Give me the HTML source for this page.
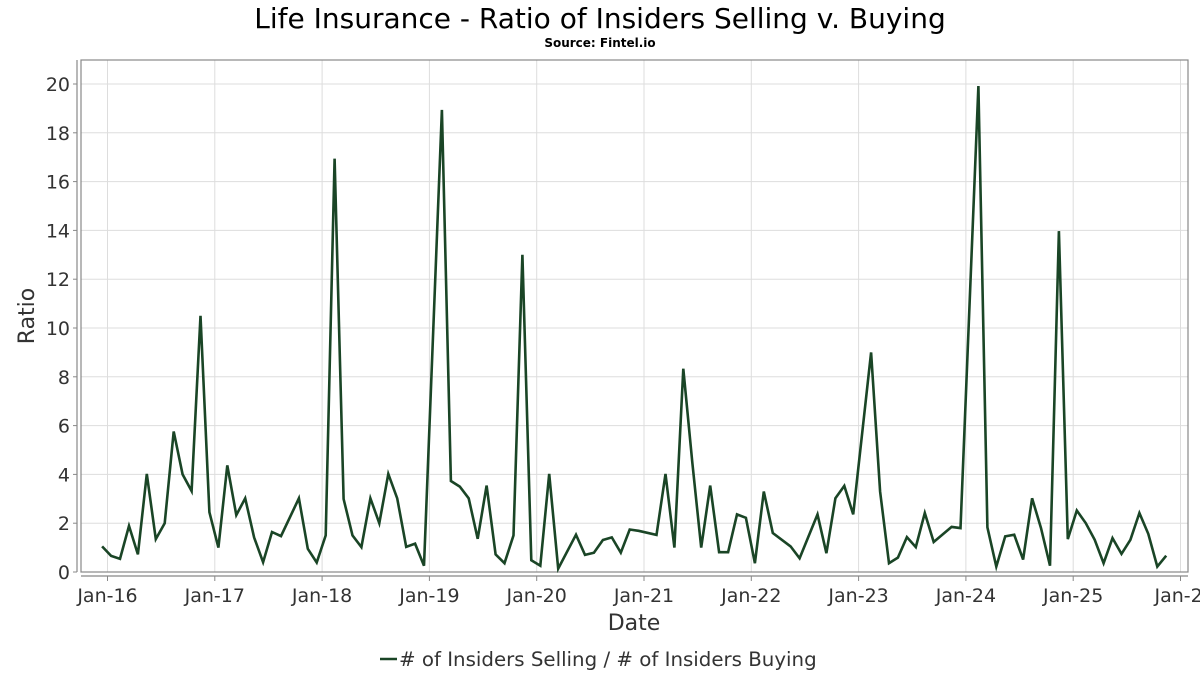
<!DOCTYPE html>
<html><head><meta charset="utf-8"><style>
body{margin:0;background:#fff;font-family:"DejaVu Sans","Liberation Sans",sans-serif;}
svg text{font-family:"DejaVu Sans","Liberation Sans",sans-serif;fill:#333;}
</style></head><body>
<svg id="chart" width="1200" height="675" viewBox="0 0 1200 675">
<text x="600" y="28" text-anchor="middle" font-size="28" fill="#000" style="fill:#000">Life Insurance - Ratio of Insiders Selling v. Buying</text>
<text x="600" y="47" text-anchor="middle" font-size="12" font-weight="bold" style="fill:#000">Source: Fintel.io</text>
<g id="grid"></g>
<rect x="81" y="60" width="1107" height="512" fill="none" stroke="#888" stroke-width="1.2"/>
<line x1="81" y1="576" x2="1188" y2="576" stroke="#888" stroke-width="1.2"/>
<line x1="77" y1="60" x2="77" y2="572" stroke="#888" stroke-width="1.2"/>
<g id="ticks"></g>
<path id="series" fill="none" stroke="#1a4526" stroke-width="2.6" stroke-linejoin="miter"/>
<text x="634" y="630" text-anchor="middle" font-size="22">Date</text>
<text transform="translate(34,316) rotate(-90)" text-anchor="middle" font-size="22">Ratio</text>
<g>
<line x1="380" y1="659" x2="397" y2="659" stroke="#1a4526" stroke-width="2.6"/>
<text x="399" y="666" font-size="19.8"># of Insiders Selling / # of Insiders Buying</text>
</g>
</svg>
<script>
// month offsets from Jan-2016
const months=[-1,0,1,2,3,4,5,6,7,8,9,10,11,12,13,14,15,16,17,18,19,21,22,23,24,25,26,27,28,29,30,31,32,33,34,35,37,38,39,40,41,42,43,44,45,46,47,48,49,50,52,53,54,55,56,57,58,59,61,62,63,64,65,66,67,68,69,70,71,72,73,74,76,77,79,80,81,82,83,85,86,87,88,89,90,91,92,94,95,97,98,99,100,101,102,103,104,105,106,107,108,109,110,111,112,113,114,115,116,117,118];
const values=[1.05,0.66,0.54,1.89,0.72,4.02,1.35,2.0,5.76,4.0,3.32,10.5,2.45,1.0,4.37,2.33,3.02,1.42,0.4,1.64,1.47,3.02,0.95,0.39,1.5,16.94,2.99,1.5,1.02,3.02,2.0,4.02,3.02,1.03,1.16,0.26,18.94,3.73,3.5,3.02,1.36,3.54,0.72,0.36,1.5,13.0,0.48,0.26,4.02,0.14,1.53,0.7,0.79,1.31,1.42,0.79,1.74,1.69,1.52,4.02,1.0,8.33,4.49,1.0,3.54,0.81,0.81,2.36,2.22,0.36,3.3,1.6,1.05,0.56,2.36,0.77,3.02,3.53,2.36,9.0,3.3,0.36,0.59,1.43,1.02,2.42,1.23,1.85,1.8,19.92,1.83,0.22,1.46,1.53,0.51,3.02,1.8,0.26,13.97,1.35,2.52,2.01,1.32,0.36,1.39,0.74,1.32,2.42,1.56,0.22,0.67];
const yTicks=[0,2,4,6,8,10,12,14,16,18,20];
const xTickLabels=["Jan-16","Jan-17","Jan-18","Jan-19","Jan-20","Jan-21","Jan-22","Jan-23","Jan-24","Jan-25","Jan-2"];

const NS="http://www.w3.org/2000/svg";
const X0=107.5, YEARW=107.3, Y0=572, UNIT=24.4;
const xs=m=>X0+(m/12)*YEARW;
const ys=v=>Y0-v*UNIT;
const grid=document.getElementById('grid'), ticks=document.getElementById('ticks');
function mk(tag,attrs,parent){const e=document.createElementNS(NS,tag);for(const k in attrs)e.setAttribute(k,attrs[k]);parent.appendChild(e);return e;}
yTicks.forEach(v=>{
  const l=mk('line',{x1:81,x2:1188,y1:ys(v),y2:ys(v),stroke:'#ddd','stroke-width':1},grid);
  
  
  const tk=mk('line',{x1:73,x2:77,y1:ys(v),y2:ys(v),stroke:'#888','stroke-width':1},ticks);
  
  
  const t=mk('text',{x:70,y:ys(v)+7,'text-anchor':'end','font-size':19},ticks);
  t.textContent=v;
  
  
});
xTickLabels.forEach((lab,i)=>{
  const x=xs(i*12);
  const l=mk('line',{x1:x,x2:x,y1:60,y2:572,stroke:'#ddd','stroke-width':1},grid);
  
  
  const tk=mk('line',{x1:x,x2:x,y1:576,y2:581,stroke:'#888','stroke-width':1},ticks);
  
  
  const t=mk('text',{x:x,y:602,'text-anchor':i===xTickLabels.length-1?'start':'middle','font-size':19},ticks);
  if(i===xTickLabels.length-1)t.setAttribute('x',x-26);
  t.textContent=lab;
  
  
});
let d='';
months.forEach((m,i)=>{d+=(i?'L':'M')+xs(m+0.4).toFixed(1)+','+ys(values[i]).toFixed(1);});
document.getElementById('series').setAttribute('d',d);
</script>
</body></html>
